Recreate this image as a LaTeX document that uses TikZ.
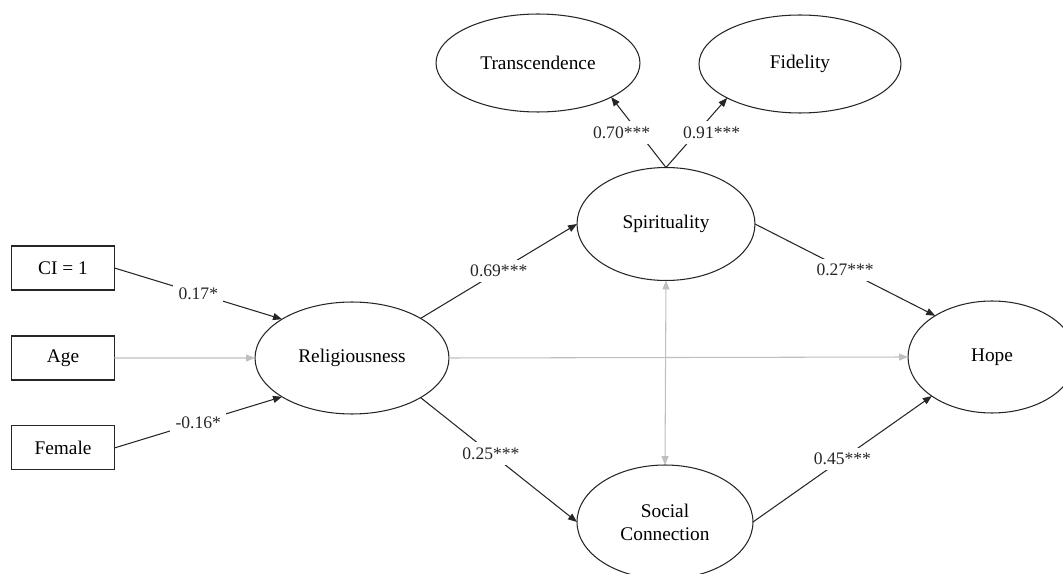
\documentclass[tikz,border=0pt]{standalone}
\usepackage{fontspec}
\setmainfont{Liberation Serif}
\usetikzlibrary{shapes.geometric, arrows.meta, positioning}

\begin{document}
\begin{tikzpicture}[
    x=0.02cm, y=-0.02cm,
    node distance=0.92cm,
    obs/.style={rectangle, draw=black!85, line width=0.6pt, outer sep=0pt, minimum width=2.06cm, minimum height=0.88cm, font=\fontsize{11}{13}\selectfont},
    lat/.style={ellipse, draw=black!85, line width=0.6pt, outer sep=0pt, align=center, font=\fontsize{11}{13}\selectfont},
    arr/.style={-{Triangle[length=1.8mm, width=1.4mm]}, line width=0.6pt, black!85},
    ghost/.style={-{Triangle[length=1.8mm, width=1.4mm]}, line width=0.6pt, black!25},
    coef/.style={fill=white, inner sep=3pt, font=\fontsize{10}{12}\selectfont},
  ]
    \useasboundingbox (0,0) rectangle (1063,574);
    % observed covariates
    \node[obs] (ci) at (63,268) {CI = 1};
    \node[obs, below=of ci] (age) {Age};
    \node[obs, below=of age] (fem) {Female};
    % latent constructs
    \node[lat, minimum width=3.88cm, minimum height=2.24cm] (rel) at (352,358) {Religiousness};
    \node[lat, minimum width=3.56cm, minimum height=2.26cm] (spi) at (666,224) {Spirituality};
    \node[lat, minimum width=3.52cm, minimum height=2.28cm] (soc) at (665,522) {Social\\Connection};
    \node[lat, minimum width=3.36cm, minimum height=2.24cm] (hope) at (992,357) {Hope};
    \node[lat, minimum width=4.08cm, minimum height=1.96cm] (tra) at (538,63) {Transcendence};
    \node[lat, minimum width=4.04cm, minimum height=1.96cm] (fid) at (800,64) {Fidelity};
    % paths
    \draw[arr] (ci.east) -- node[coef] {0.17*} (rel.151);
    \draw[ghost] (age.east) -- (rel.west);
    \draw[arr] (fem.east) -- node[coef] {-0.16*} (rel.209);
    \draw[arr] (rel.30) -- node[coef] {0.69***} (spi.west);
    \draw[arr] (rel.-30) -- node[coef, pos=0.45] {0.25***} (soc.west);
    \draw[ghost] (rel.east) -- (hope.west);
    \draw[arr] (spi.east) -- node[coef] {0.27***} (hope.144);
    \draw[arr] (soc.east) -- node[coef] {0.45***} (hope.213);
    \draw[ghost, {Triangle[length=1.8mm, width=1.4mm]}-{Triangle[length=1.8mm, width=1.4mm]}] (spi.south) -- (soc.north);
    % second-order loadings
    \draw[arr] (spi.north) -- node[coef, xshift=-0.34cm] {0.70***} (tra.-25);
    \draw[arr] (spi.north) -- node[coef, xshift=0.3cm] {0.91***} (fid.205);
\end{tikzpicture}
\end{document}
